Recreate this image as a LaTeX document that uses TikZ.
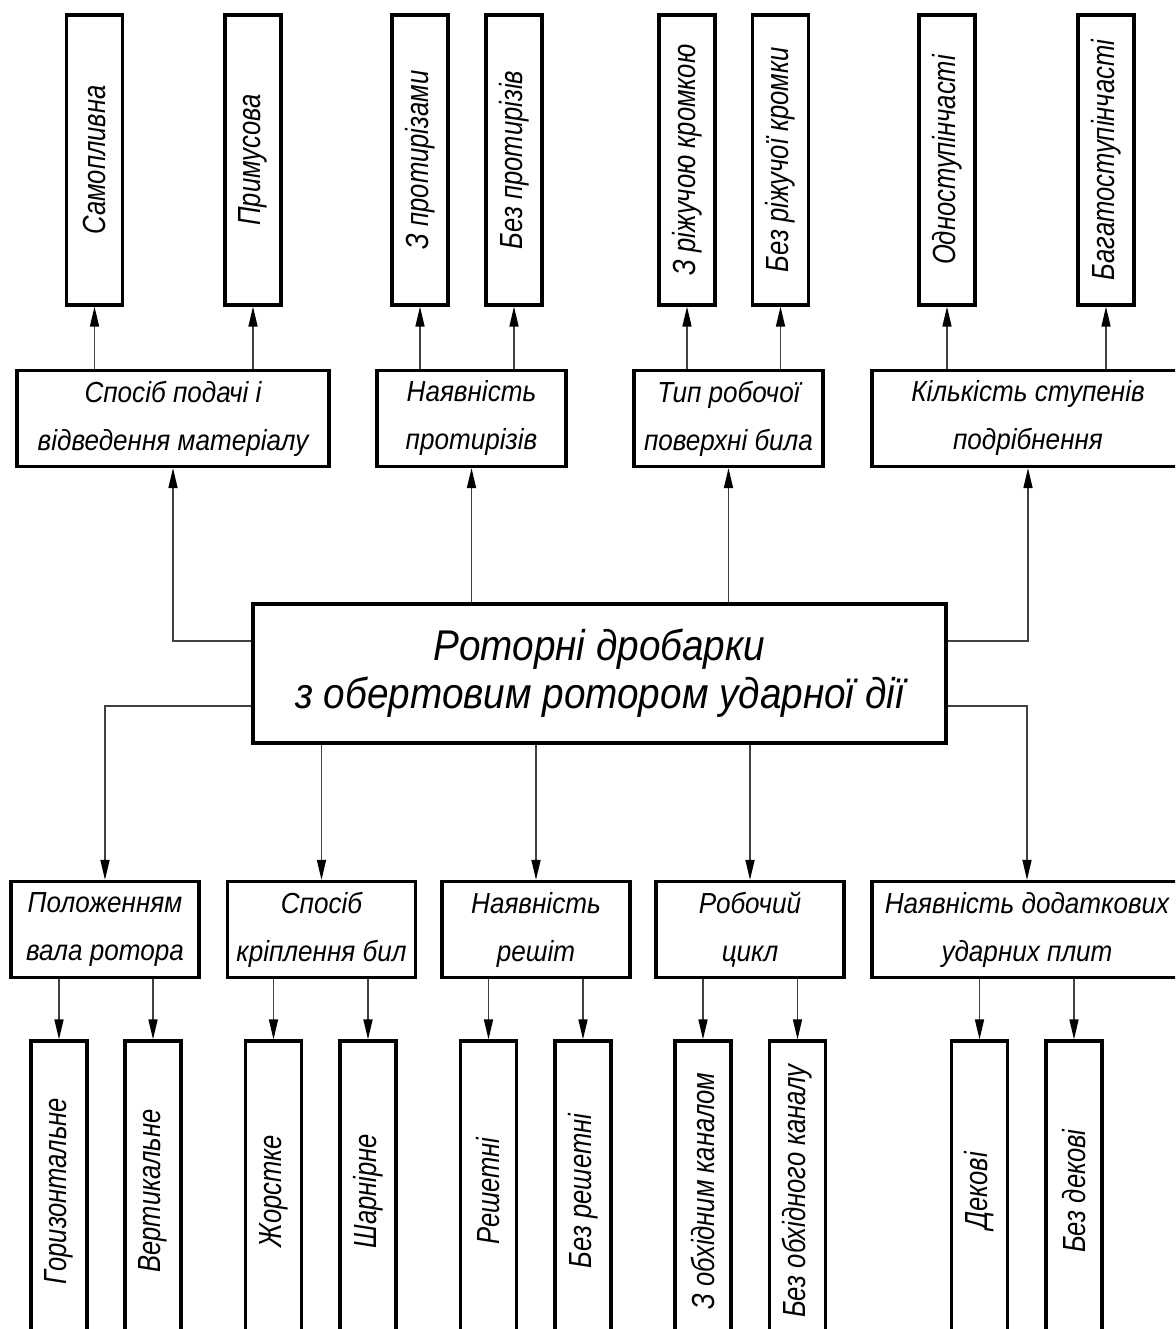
\documentclass[tikz,border=0pt]{standalone}
\usepackage{fontspec}
\usetikzlibrary{arrows.meta}
\newfontfamily\gostV[FakeStretch=0.8]{Liberation Sans}
\newfontfamily\gostH[FakeStretch=0.9]{Liberation Sans}
\tikzset{
  x=1pt, y=-1pt,
  box/.style={draw=black, line width=3.2pt, inner sep=0pt, align=center},
  vbox/.style={box, minimum width=56pt, font=\gostV\itshape\fontsize{32}{40}\selectfont},
  topbox/.style={vbox, minimum height=290pt},
  botbox/.style={vbox, minimum height=300pt},
  midbox/.style={box, minimum height=96pt, font=\gostH\itshape\fontsize{29}{48}\selectfont},
  mainbox/.style={box, minimum width=693pt, minimum height=139pt, font=\gostH\itshape\fontsize{43}{48}\selectfont},
  conn/.style={draw=black!75, line width=1.5pt, -{Triangle[length=20pt,width=9pt,fill=black,color=black]}},
}
\begin{document}
\begin{tikzpicture}
\useasboundingbox (0,0) rectangle (1175,1329);
\clip (0,0) rectangle (1175,1329);
\fill[white] (0,0) rectangle (1175,1329);

% central box
\node[mainbox] (C) at (599.5,673.5) {Роторні дробарки\\з обертовим ротором ударної дії};

% upper middle boxes
\node[midbox, minimum width=312pt] (A) at (173,418.5) {Спосіб подачі і\\відведення матеріалу};
\node[midbox, minimum width=189pt] (B) at (471.5,418.5) {Наявність\\протирізів};
\node[midbox, minimum width=189pt] (Cc) at (728.5,418.5) {Тип робочої\\поверхні била};
\node[midbox, minimum width=312pt] (D) at (1028,418.5) {Кількість ступенів\\подрібнення};

% top boxes
\node[topbox] (t1) at (94.5,160) {\rotatebox{90}{Самопливна}};
\node[topbox] (t2) at (253,160) {\rotatebox{90}{Примусова}};
\node[topbox] (t3) at (420,160) {\rotatebox{90}{З протирізами}};
\node[topbox] (t4) at (514,160) {\rotatebox{90}{Без протирізів}};
\node[topbox] (t5) at (687,160) {\rotatebox{90}{З ріжучою кромкою}};
\node[topbox] (t6) at (780.5,160) {\rotatebox{90}{Без ріжучої кромки}};
\node[topbox] (t7) at (947,160) {\rotatebox{90}{Одноступінчасті}};
\node[topbox] (t8) at (1106,160) {\rotatebox{90}{Багатоступінчасті}};

% lower middle boxes
\node[midbox, minimum width=188pt] (E) at (105,929.5) {Положенням\\вала ротора};
\node[midbox, minimum width=188pt] (F) at (321.5,929.5) {Спосіб\\кріплення бил};
\node[midbox, minimum width=188pt] (G) at (536,929.5) {Наявність\\решіт};
\node[midbox, minimum width=188pt] (H) at (750,929.5) {Робочий\\цикл};
\node[midbox, minimum width=310pt] (K) at (1027,929.5) {Наявність додаткових\\ударних плит};

% bottom boxes
\node[botbox] (b1) at (59,1191) {\rotatebox{90}{Горизонтальне}};
\node[botbox] (b2) at (153,1191) {\rotatebox{90}{Вертикальне}};
\node[botbox] (b3) at (273.5,1191) {\rotatebox{90}{Жорстке}};
\node[botbox] (b4) at (368,1191) {\rotatebox{90}{Шарнірне}};
\node[botbox] (b5) at (488.5,1191) {\rotatebox{90}{Решетні}};
\node[botbox] (b6) at (583,1191) {\rotatebox{90}{Без решетні}};
\node[botbox] (b7) at (703,1191) {\rotatebox{90}{З обхідним каналом}};
\node[botbox] (b8) at (797.5,1191) {\rotatebox{90}{Без обхідного каналу}};
\node[botbox] (b9) at (979.5,1191) {\rotatebox{90}{Декові}};
\node[botbox] (b10) at (1074,1191) {\rotatebox{90}{Без декові}};

% central to upper middle
\draw[conn] ([yshift=32.5pt]C.west) -| (A.south);
\draw[conn] (C.north -| B.south) -- (B.south);
\draw[conn] (C.north -| Cc.south) -- (Cc.south);
\draw[conn] ([yshift=32.5pt]C.east) -| (D.south);

% central to lower middle
\draw[conn] ([yshift=-32.5pt]C.west) -| (E.north);
\draw[conn] (C.south -| F.north) -- (F.north);
\draw[conn] (C.south -| G.north) -- (G.north);
\draw[conn] (C.south -| H.north) -- (H.north);
\draw[conn] ([yshift=-32.5pt]C.east) -| (K.north);

% upper middle to top
\draw[conn] (A.north -| t1.south) -- (t1.south);
\draw[conn] (A.north -| t2.south) -- (t2.south);
\draw[conn] (B.north -| t3.south) -- (t3.south);
\draw[conn] (B.north -| t4.south) -- (t4.south);
\draw[conn] (Cc.north -| t5.south) -- (t5.south);
\draw[conn] (Cc.north -| t6.south) -- (t6.south);
\draw[conn] (D.north -| t7.south) -- (t7.south);
\draw[conn] (D.north -| t8.south) -- (t8.south);

% lower middle to bottom
\draw[conn] (E.south -| b1.north) -- (b1.north);
\draw[conn] (E.south -| b2.north) -- (b2.north);
\draw[conn] (F.south -| b3.north) -- (b3.north);
\draw[conn] (F.south -| b4.north) -- (b4.north);
\draw[conn] (G.south -| b5.north) -- (b5.north);
\draw[conn] (G.south -| b6.north) -- (b6.north);
\draw[conn] (H.south -| b7.north) -- (b7.north);
\draw[conn] (H.south -| b8.north) -- (b8.north);
\draw[conn] (K.south -| b9.north) -- (b9.north);
\draw[conn] (K.south -| b10.north) -- (b10.north);
\end{tikzpicture}
\end{document}
